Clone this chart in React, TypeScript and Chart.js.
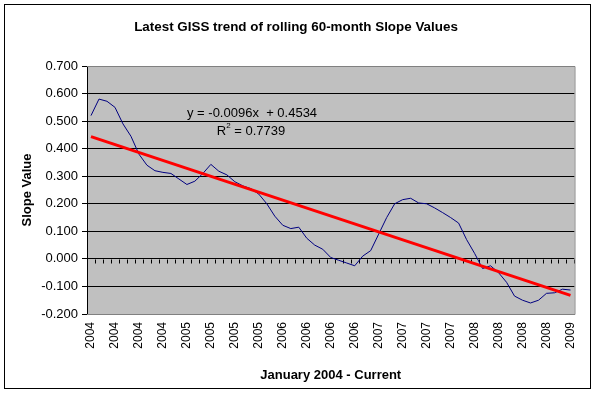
import React, { useEffect, useRef } from "react";
import { Chart, registerables } from "chart.js";

Chart.register(...registerables);

const categories = [
  "2004", "2004", "2004", "2004", "2004", "2004", "2004", "2004", "2004", "2004", "2004", "2004",
  "2005", "2005", "2005", "2005", "2005", "2005", "2005", "2005", "2005", "2005", "2005", "2005",
  "2006", "2006", "2006", "2006", "2006", "2006", "2006", "2006", "2006", "2006", "2006", "2006",
  "2007", "2007", "2007", "2007", "2007", "2007", "2007", "2007", "2007", "2007", "2007", "2007",
  "2008", "2008", "2008", "2008", "2008", "2008", "2008", "2008", "2008", "2008", "2008", "2008",
  "2009",
];

const slopeValues = [
  0.52, 0.58, 0.572, 0.55, 0.49, 0.445, 0.38, 0.34, 0.32, 0.314, 0.31, 0.29,
  0.27, 0.282, 0.31, 0.343, 0.318, 0.305, 0.28, 0.265, 0.255, 0.235, 0.2, 0.155,
  0.122, 0.11, 0.115, 0.075, 0.05, 0.035, 0.005, -0.005, -0.015, -0.025, 0.01, 0.03,
  0.09, 0.15, 0.2, 0.215, 0.22, 0.203, 0.2, 0.185, 0.168, 0.15, 0.13, 0.07,
  0.02, -0.035, -0.025, -0.05, -0.085, -0.135, -0.15, -0.16, -0.15, -0.125, -0.123, -0.11,
  -0.113,
];

const TREND_SLOPE = -0.0096;
const TREND_INTERCEPT = 0.4534;
const TREND_EQUATION = "y = -0.0096x  + 0.4534";
const R_SQUARED_TEXT = " = 0.7739";

const Y_MIN = -0.2;
const Y_MAX = 0.7;
const Y_STEP = 0.1;
const LABEL_EVERY = 3;

const CHART_TITLE = "Latest GISS trend of rolling 60-month Slope Values";
const X_TITLE = "January 2004 - Current";
const Y_TITLE = "Slope Value";

const FONT = "'Liberation Sans', Arial, sans-serif";

const trendValues = categories.map((_, i) =>
  i === 0 || i === categories.length - 1 ? TREND_INTERCEPT + TREND_SLOPE * (i + 1) : null
);

const decorPlugin = {
  id: "decor",
  beforeDraw(chart: any) {
    const { ctx, chartArea: a, width, height } = chart;
    ctx.save();
    ctx.fillStyle = "#ffffff";
    ctx.fillRect(0, 0, width, height);
    ctx.fillStyle = "#c0c0c0";
    ctx.fillRect(a.left, a.top, a.right - a.left, a.bottom - a.top);
    ctx.restore();
  },
  beforeDatasetsDraw(chart: any) {
    const { ctx, chartArea: a } = chart;
    const y0 = Math.round(chart.scales.y.getPixelForValue(0)) + 0.5;
    const n = categories.length;
    const w = (a.right - a.left) / n;
    ctx.save();
    ctx.strokeStyle = "#000000";
    ctx.lineWidth = 1;
    ctx.beginPath();
    for (let k = 0; k <= n; k++) {
      const x = Math.round(a.left + k * w) + 0.5;
      ctx.moveTo(x, y0);
      ctx.lineTo(x, y0 + 4);
    }
    ctx.stroke();
    ctx.strokeStyle = "#808080";
    ctx.beginPath();
    ctx.moveTo(a.left, a.top + 0.5);
    ctx.lineTo(a.right + 0.5, a.top + 0.5);
    ctx.lineTo(a.right + 0.5, a.bottom + 0.5);
    ctx.lineTo(a.left, a.bottom + 0.5);
    ctx.stroke();
    ctx.restore();
  },
  afterDraw(chart: any) {
    const { ctx, chartArea: a } = chart;
    ctx.save();
    ctx.strokeStyle = "#000000";
    ctx.lineWidth = 1;
    ctx.strokeRect(4.5, 4.5, 586, 384);

    ctx.fillStyle = "#000000";
    ctx.textAlign = "center";
    ctx.textBaseline = "middle";
    ctx.font = `bold 13.4px ${FONT}`;
    ctx.fillText(CHART_TITLE, 296, 27);
    ctx.font = `bold 13px ${FONT}`;
    ctx.fillText(X_TITLE, (a.left + a.right) / 2, 375);

    ctx.save();
    ctx.translate(27, (a.top + a.bottom) / 2);
    ctx.rotate(-Math.PI / 2);
    ctx.fillText(Y_TITLE, 0, 0);
    ctx.restore();

    ctx.font = `13px ${FONT}`;
    ctx.textAlign = "left";
    ctx.fillText(TREND_EQUATION, 187, 113);
    const rW = ctx.measureText("R").width;
    ctx.font = `8px ${FONT}`;
    const supW = ctx.measureText("2").width;
    ctx.font = `13px ${FONT}`;
    const restW = ctx.measureText(R_SQUARED_TEXT).width;
    const total = rW + supW + restW;
    const startX = 251 - total / 2;
    ctx.fillText("R", startX, 131);
    ctx.font = `8px ${FONT}`;
    ctx.fillText("2", startX + rW, 126);
    ctx.font = `13px ${FONT}`;
    ctx.fillText(R_SQUARED_TEXT, startX + rW + supW, 131);
    ctx.restore();
  },
};

export default function App() {
  const canvasRef = useRef<HTMLCanvasElement | null>(null);

  useEffect(() => {
    if (!canvasRef.current) return;
    const chart = new Chart(canvasRef.current, {
      type: "line",
      data: {
        labels: categories,
        datasets: [
          {
            label: "Trend",
            data: trendValues,
            borderColor: "#ff0000",
            borderWidth: 3,
            pointRadius: 0,
            spanGaps: true,
            tension: 0,
            order: 0,
          },
          {
            label: "Slope",
            data: slopeValues,
            borderColor: "#000080",
            borderWidth: 1,
            pointRadius: 0,
            tension: 0,
            order: 1,
          },
        ],
      },
      options: {
        animation: false,
        responsive: false,
        devicePixelRatio: 1,
        layout: { padding: { left: 0, top: 66, right: 14, bottom: 0 } },
        plugins: {
          legend: { display: false },
          tooltip: { enabled: false },
          title: { display: false },
        },
        scales: {
          x: {
            type: "category",
            offset: true,
            grid: { display: false, drawTicks: false },
            border: { display: false },
            ticks: {
              autoSkip: false,
              maxRotation: 90,
              minRotation: 90,
              padding: 8,
              color: "#000000",
              font: { family: FONT, size: 12 },
              callback: (_v: any, i: number) => (i % LABEL_EVERY === 0 ? categories[i] : ""),
            },
            afterFit: (scale: any) => {
              scale.height = 79;
            },
          },
          y: {
            min: Y_MIN,
            max: Y_MAX,
            ticks: {
              stepSize: Y_STEP,
              padding: 4,
              color: "#000000",
              font: { family: FONT, size: 13 },
              callback: (v: any) => {
                const n = Math.abs(Number(v)) < 1e-9 ? 0 : Number(v);
                return n.toFixed(3);
              },
            },
            grid: {
              color: (c: any) => (c.tick && Math.abs(c.tick.value - Y_MAX) < 1e-9 ? "#808080" : "#000000"),
              lineWidth: 1,
              tickLength: 5,
              tickColor: "#000000",
            },
            border: { color: "#000000", width: 1 },
            afterFit: (scale: any) => {
              scale.width = 87;
            },
          },
        },
      },
      plugins: [decorPlugin],
    });
    return () => chart.destroy();
  }, []);

  return (
    <div style={{ position: "absolute", left: 0, top: 0, width: 593, height: 393 }}>
      <canvas ref={canvasRef} width={593} height={393} style={{ width: 593, height: 393 }} />
    </div>
  );
}
